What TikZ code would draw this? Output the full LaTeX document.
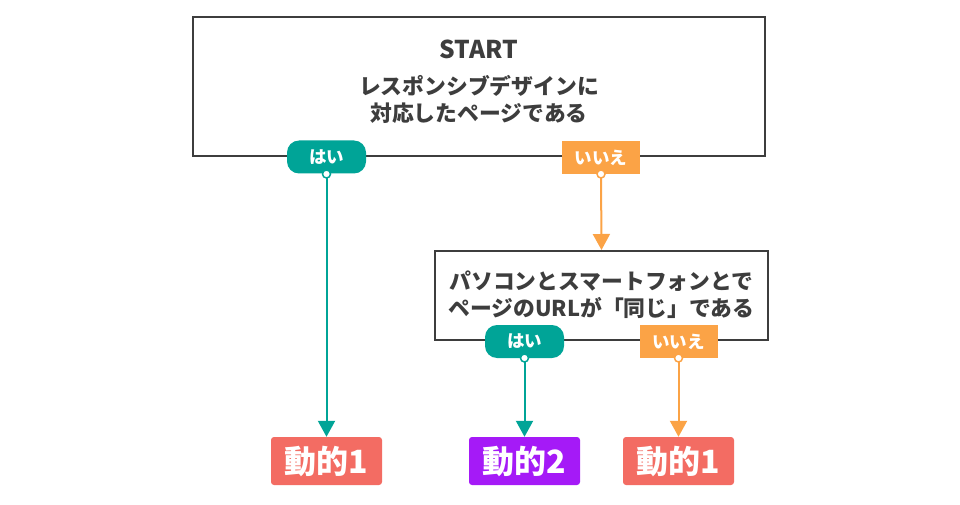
\documentclass[tikz,border=0pt]{standalone}
\usepackage{fontspec}
\setmainfont{Noto Sans CJK JP}
\usetikzlibrary{arrows.meta}
\definecolor{tealc}{HTML}{00A497}
\definecolor{orangec}{HTML}{FBA346}
\definecolor{salmonc}{HTML}{F36C63}
\definecolor{purplec}{HTML}{A51AF7}
\definecolor{darkc}{HTML}{3D3D3D}
\tikzset{
  qbox/.style={draw=darkc, line width=2pt, fill=white, inner sep=0pt},
  qtext/.style={text=darkc, font=\bfseries\fontsize{21.8}{26.5}\selectfont, align=center, inner sep=0pt},
  yespill/.style={fill=tealc, rounded corners=12pt, minimum width=79pt, minimum height=33pt, inner sep=0pt, text=white, font=\bfseries\fontsize{17.5}{17.5}\selectfont},
  nobox/.style={fill=orangec, minimum width=78pt, minimum height=33pt, inner sep=0pt, text=white, font=\bfseries\fontsize{17.5}{17.5}\selectfont},
  dotc/.style={circle, fill=white, draw=#1, line width=1.5pt, minimum size=8pt, inner sep=0pt},
  result/.style={fill=#1, rounded corners=3pt, minimum width=111pt, minimum height=48pt, inner sep=0pt, text=white, font=\bfseries\fontsize{32}{32}\selectfont},
  conn/.style={draw=#1, line width=2pt, -{Triangle[length=16pt,width=17pt]}},
}
\begin{document}
\begin{tikzpicture}[x=1pt,y=-1pt]
\useasboundingbox (0,0) rectangle (960,505);
% boxes
\node[qbox, minimum width=572pt, minimum height=139pt] (q1) at (479,86.5) {};
\node[qtext, font=\bfseries\fontsize{24.5}{24.5}\selectfont] (t0) at (479,49) {START};
\node[qtext] (t1) at (479,99.5) {レスポンシブデザインに\\対応したページである};
\node[qbox, minimum width=333pt, minimum height=89pt] (q2) at (601.5,295.5) {};
\node[qtext] (t2) at (601.5,294.5) {パソコンとスマートフォンとで\\ページのURLが「同じ」である};
% labels
\node[yespill] (y1) at (326.5,157) {はい};
\node[nobox] (n1) at (601,157.5) {いいえ};
\node[yespill] (y2) at (524.5,341.5) {はい};
\node[nobox] (n2) at (678.5,341.5) {いいえ};
% results
\node[result=salmonc] (r1) at (326.5,461) {動的1};
\node[result=purplec] (r2) at (524.5,461) {動的2};
\node[result=salmonc] (r3) at (678.5,461) {動的1};
% dots
\coordinate (d1) at (326.5,174);
\coordinate (d2) at (601,174);
\coordinate (d3) at (524.5,358);
\coordinate (d4) at (678.5,358);
% connectors
\draw[conn=tealc] (d1) -- (r1.north);
\draw[conn=orangec] (d2) -- (q2.north);
\draw[conn=tealc] (d3) -- (r2.north);
\draw[conn=orangec] (d4) -- (r3.north);
% dots on top
\node[dotc=tealc] (o1) at (d1) {};
\node[dotc=orangec] (o2) at (d2) {};
\node[dotc=tealc] (o3) at (d3) {};
\node[dotc=orangec] (o4) at (d4) {};
\end{tikzpicture}
\end{document}
